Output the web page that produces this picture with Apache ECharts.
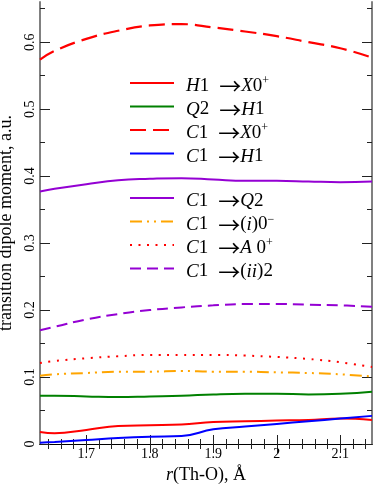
<!DOCTYPE html>
<html><head><meta charset="utf-8">
<script src="https://cdn.jsdelivr.net/npm/echarts@6/dist/echarts.min.js"></script>
<style>html,body{margin:0;padding:0;background:#fff}#c{width:374px;height:488px}</style>
</head><body><div id="c"></div>
<script>
const xs = [1.627, 1.65, 1.70, 1.75, 1.80, 1.85, 1.90, 1.95, 2.00, 2.05, 2.10, 2.15];
const H1_X0 = [0.018, 0.016, 0.021, 0.027, 0.028, 0.029, 0.033, 0.034, 0.035, 0.036, 0.038, 0.036];
const Q2_H1 = [0.072, 0.072, 0.071, 0.070, 0.071, 0.072, 0.074, 0.075, 0.075, 0.074, 0.075, 0.078];
const C1_X0 = [0.574, 0.587, 0.605, 0.617, 0.625, 0.627, 0.622, 0.616, 0.609, 0.600, 0.591, 0.577];
const C1_H1 = [0.002, 0.003, 0.006, 0.009, 0.011, 0.012, 0.022, 0.026, 0.030, 0.034, 0.038, 0.042];
const C1_Q2 = [0.377, 0.381, 0.388, 0.394, 0.396, 0.397, 0.395, 0.393, 0.393, 0.392, 0.391, 0.392];
const C1_i0 = [0.102, 0.104, 0.106, 0.108, 0.108, 0.109, 0.108, 0.108, 0.107, 0.106, 0.104, 0.101];
const C1_A0 = [0.121, 0.124, 0.128, 0.131, 0.133, 0.133, 0.133, 0.132, 0.130, 0.127, 0.122, 0.115];
const C1_ii2 = [0.170, 0.175, 0.186, 0.194, 0.200, 0.204, 0.207, 0.209, 0.209, 0.208, 0.207, 0.205];

const xMajor = [1.7, 1.8, 1.9, 2.0, 2.1];
const xMinor = [1.64, 1.66, 1.68, 1.72, 1.74, 1.76, 1.78, 1.82, 1.84, 1.86, 1.88, 1.92, 1.94, 1.96, 1.98, 2.02, 2.04, 2.06, 2.08, 2.12, 2.14];
const yMajor = [0, 0.1, 0.2, 0.3, 0.4, 0.5, 0.6];
const yMinor = [0.05, 0.15, 0.25, 0.35, 0.45, 0.55, 0.65];

const names = ['H1X0', 'Q2H1', 'C1X0', 'C1H1', 'C1Q2', 'C1i0', 'C1A0', 'C1ii2'];
const labels = {
  H1X0: '{i|H}1{a|→}{i|X}0{s|+}',
  Q2H1: '{i|Q}2{a|→}{i|H}1',
  C1X0: '{i|C}1{a|→}{i|X}0{s|+}',
  C1H1: '{i|C}1{a|→}{i|H}1',
  C1Q2: '{i|C}1{a|→}{i|Q}2',
  C1i0: '{i|C}1{a|→}({i|i})0{s|−}',
  C1A0: '{i|C}1{a|→}{i|A} 0{s|+}',
  C1ii2: '{i|C}1{a|→}({i|ii})2'
};

const F = 'Liberation Serif';
const xMin = 1.627, xMax = 2.15, yMin = 0, yMax = 0.66;

function mk(name, data, color, type, width) {
  return {
    name: name, type: 'line', symbol: 'none', smooth: 0.45,
    data: xs.map((x, i) => [x, data[i]]),
    lineStyle: { color: color, width: width, type: type },
    itemStyle: { color: color },
    z: 3
  };
}

const rich = {
  i: { fontStyle: 'italic', fontFamily: F, fontSize: 19, lineHeight: 22 },
  a: { fontFamily: 'Noto Sans CJK JP', fontSize: 22, lineHeight: 22, padding: [0, 0, 0, 10] },
  s: { fontFamily: F, fontSize: 12, lineHeight: 8, verticalAlign: 'top' }
};

function legendOf(list, top) {
  return {
    data: list, orient: 'vertical', left: 129, top: top, padding: 0,
    itemWidth: 44, itemHeight: 14, itemGap: -4.5,
    selectedMode: false,
    itemStyle: { opacity: 0 },
    formatter: n => labels[n],
    textStyle: { fontFamily: F, fontSize: 19, lineHeight: 22, color: '#000', padding: [6, 0, 0, 7], rich: rich }
  };
}

const chart = echarts.init(document.getElementById('c'), null, { renderer: 'canvas' });
const tickStyle = { color: '#222', width: 1 };
chart.setOption({
  animation: false,
  grid: { left: 40, right: 2, top: 2, bottom: 44, containLabel: false, outerBoundsMode: 'none' },
  legend: [legendOf(names.slice(0, 4), 69), legendOf(names.slice(4), 184)],
  xAxis: [
    { type: 'value', min: xMin, max: xMax, position: 'bottom',
      axisLine: { show: true, lineStyle: { color: '#000', width: 1 } },
      axisTick: { show: true, inside: true, length: 9, customValues: xMajor, lineStyle: tickStyle },
      axisLabel: { customValues: xMajor, fontFamily: F, fontSize: 14, color: '#000', margin: 3 },
      splitLine: { show: false },
      name: '{i|r}(Th-O), Å', nameLocation: 'middle', nameGap: 22,
      nameTextStyle: { fontFamily: F, fontSize: 18, color: '#000', rich: { i: { fontStyle: 'italic', fontFamily: F, fontSize: 18 } } } },
    { type: 'value', min: xMin, max: xMax, position: 'bottom',
      axisLine: { show: false }, axisLabel: { show: false }, splitLine: { show: false },
      axisTick: { show: true, inside: true, length: 5, customValues: xMinor, lineStyle: tickStyle } },
    { type: 'value', min: xMin, max: xMax, position: 'top',
      axisLine: { show: true, lineStyle: { color: '#000', width: 1 } }, axisLabel: { show: false }, splitLine: { show: false },
      axisTick: { show: true, inside: true, length: 9, customValues: xMajor, lineStyle: tickStyle } },
    { type: 'value', min: xMin, max: xMax, position: 'top',
      axisLine: { show: false }, axisLabel: { show: false }, splitLine: { show: false },
      axisTick: { show: true, inside: true, length: 5, customValues: xMinor, lineStyle: tickStyle } }
  ],
  yAxis: [
    { type: 'value', min: yMin, max: yMax, position: 'left',
      axisLine: { show: true, lineStyle: { color: '#808080', width: 2 } },
      axisTick: { show: true, inside: true, length: 10, customValues: yMajor, lineStyle: tickStyle },
      axisLabel: { customValues: yMajor, rotate: 90, fontFamily: F, fontSize: 14, color: '#000', margin: 3 },
      splitLine: { show: false },
      name: 'transition dipole moment, a.u.', nameLocation: 'middle', nameGap: 21, nameRotate: 90,
      nameTextStyle: { fontFamily: F, fontSize: 18, color: '#000' } },
    { type: 'value', min: yMin, max: yMax, position: 'left',
      axisLine: { show: false }, axisLabel: { show: false }, splitLine: { show: false },
      axisTick: { show: true, inside: true, length: 5, customValues: yMinor, lineStyle: tickStyle } },
    { type: 'value', min: yMin, max: yMax, position: 'right',
      axisLine: { show: true, lineStyle: { color: '#808080', width: 2 } }, axisLabel: { show: false }, splitLine: { show: false },
      axisTick: { show: true, inside: true, length: 10, customValues: yMajor, lineStyle: tickStyle } },
    { type: 'value', min: yMin, max: yMax, position: 'right',
      axisLine: { show: false }, axisLabel: { show: false }, splitLine: { show: false },
      axisTick: { show: true, inside: true, length: 5, customValues: yMinor, lineStyle: tickStyle } }
  ],
  series: [
    mk('H1X0', H1_X0, '#ff0000', 'solid', 2),
    mk('Q2H1', Q2_H1, '#008000', 'solid', 2),
    mk('C1X0', C1_X0, '#ff0000', [16, 7], 2.2),
    mk('C1H1', C1_H1, '#0000ff', 'solid', 2),
    mk('C1Q2', C1_Q2, '#9400d3', 'solid', 2),
    mk('C1i0', C1_i0, '#ffa500', [12, 5, 2, 5, 2, 5], 2),
    mk('C1A0', C1_A0, '#ff0000', [2, 6.5], 2),
    mk('C1ii2', C1_ii2, '#9400d3', [11, 6], 2)
  ]
});
</script></body></html>
